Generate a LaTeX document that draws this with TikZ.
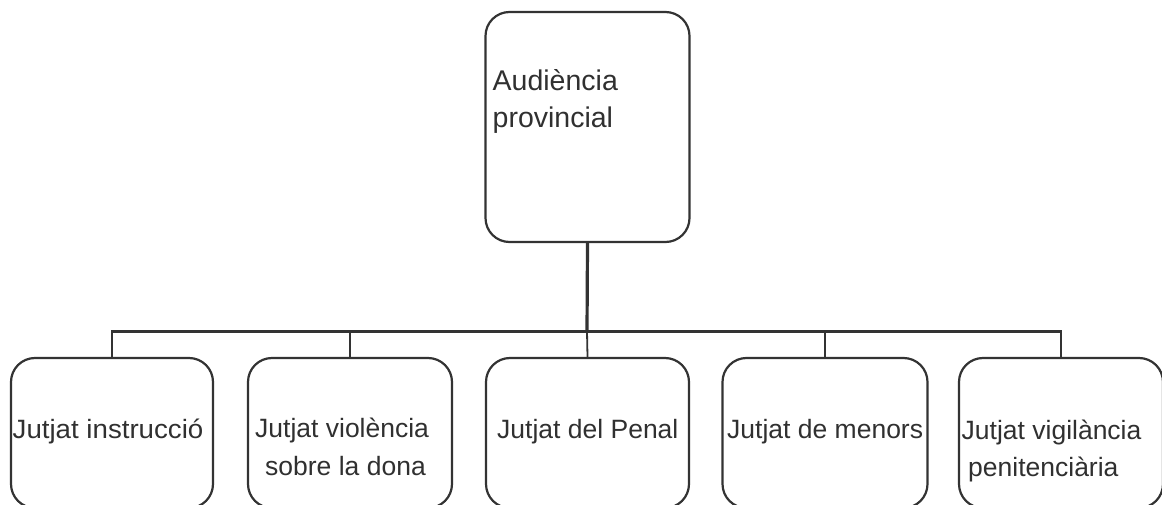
\documentclass[tikz,border=0pt]{standalone}
\usepackage{fontspec}
\usepackage{graphicx}
\setmainfont{Liberation Sans}
\definecolor{ink}{HTML}{333333}
\definecolor{txt}{HTML}{303030}
\tikzset{
  box/.style={draw=ink, line width=2.2pt, rounded corners=24pt, inner sep=0pt, fill=none},
  conn/.style={draw=ink, line width=2.3pt},
  lbl/.style={inner sep=0pt, anchor=base west, text=txt, font=\fontsize{26.5}{37}\selectfont},
  toplbl/.style={inner sep=0pt, anchor=base west, text=txt, font=\fontsize{28.5}{38}\selectfont}
}
\begin{document}
\begin{tikzpicture}[x=1pt,y=-1pt]
\useasboundingbox (0,0) rectangle (1162,505);
% boxes
\node[box, minimum width=204pt, minimum height=230pt] (top) at (587.5,127) {};
\node[box, minimum width=202pt, minimum height=150pt] (b1) at (112,433) {};
\node[box, minimum width=204pt, minimum height=150pt] (b2) at (350,433) {};
\node[box, minimum width=203pt, minimum height=150pt] (b3) at (587.5,433) {};
\node[box, minimum width=205pt, minimum height=150pt] (b4) at (825,433) {};
\node[box, minimum width=204pt, minimum height=150pt] (b5) at (1061,433) {};
% junction
\coordinate (j) at (587,331.5);
% connectors
\draw[conn, line width=3.2pt] (top.south) -- (j);
\draw[conn, line width=1.8pt] (j) -- (b3.north);
\draw[conn] (b1.north) |- (j);
\draw[conn] (b2.north) |- (j);
\draw[conn] (b4.north) |- (j);
\draw[conn] (b5.north) |- (j);
% texts
\node[toplbl] (t0a) at (492.5,90.5) {Audiència};
\node[toplbl] (t0b) at (492.5,128) {provincial};
\node[lbl] (t1) at (12.5,438) {\scalebox{1.044}[1]{Jutjat instrucció}};
\node[lbl] (t2a) at (255,437.5) {Jutjat violència};
\node[lbl] (t2b) at (265,475) {sobre la dona};
\node[lbl] (t3) at (497,438) {Jutjat del Penal};
\node[lbl] (t4) at (727,438) {Jutjat de menors};
\node[lbl] (t5a) at (961.5,439) {Jutjat vigilància};
\node[lbl] (t5b) at (968,476.5) {penitenciària};
\end{tikzpicture}
\end{document}
